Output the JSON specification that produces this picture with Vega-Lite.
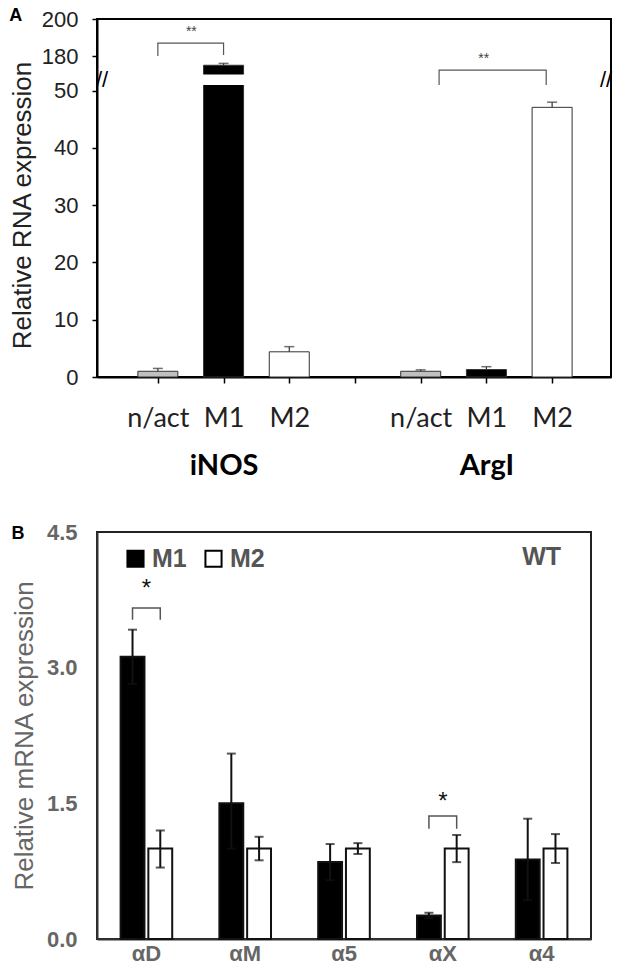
{
  "$schema": "https://vega.github.io/schema/vega-lite/v6.json",
  "background": "white",
  "padding": {"left": 8, "top": 6, "right": 4, "bottom": 0},
  "spacing": 39,
  "resolve": {"scale": {"fill": "independent"}, "legend": {"fill": "independent"}},
  "datasets": {
    "a": [
      {"gene": "iNOS", "cond": "n/act", "slot": 1, "value": 1.0, "hi": 1.5},
      {"gene": "iNOS", "cond": "M1", "slot": 2, "value": 175, "hi": 176},
      {"gene": "iNOS", "cond": "M2", "slot": 3, "value": 4.4, "hi": 5.3},
      {"gene": "ArgI", "cond": "n/act", "slot": 5, "value": 1.0, "hi": 1.25},
      {"gene": "ArgI", "cond": "M1", "slot": 6, "value": 1.3, "hi": 1.8},
      {"gene": "ArgI", "cond": "M2", "slot": 7, "value": 47.1, "hi": 48.0}
    ],
    "aBr": [
      {"id": "iNOS", "o": 1, "x": 1.0, "y": 180},
      {"id": "iNOS", "o": 2, "x": 1.0, "y": 187},
      {"id": "iNOS", "o": 3, "x": 2.0, "y": 187},
      {"id": "iNOS", "o": 4, "x": 2.0, "y": 180.5},
      {"id": "ArgI", "o": 1, "x": 5.28, "y": 51},
      {"id": "ArgI", "o": 2, "x": 5.28, "y": 172.4},
      {"id": "ArgI", "o": 3, "x": 6.91, "y": 172.4},
      {"id": "ArgI", "o": 4, "x": 6.91, "y": 51.2}
    ],
    "aStar": [
      {"x": 1.51, "y": 193, "t": "**"},
      {"x": 5.96, "y": 178.4, "t": "**"}
    ],
    "b": [
      {"gene": "αD", "cond": "M1", "value": 3.12, "lo": 2.82, "hi": 3.42},
      {"gene": "αD", "cond": "M2", "value": 1.0, "lo": 0.79, "hi": 1.2},
      {"gene": "αM", "cond": "M1", "value": 1.5, "lo": 1.0, "hi": 2.05},
      {"gene": "αM", "cond": "M2", "value": 1.0, "lo": 0.87, "hi": 1.13},
      {"gene": "α5", "cond": "M1", "value": 0.85, "lo": 0.65, "hi": 1.05},
      {"gene": "α5", "cond": "M2", "value": 1.0, "lo": 0.94, "hi": 1.06},
      {"gene": "αX", "cond": "M1", "value": 0.26, "lo": 0.23, "hi": 0.29},
      {"gene": "αX", "cond": "M2", "value": 1.0, "lo": 0.85, "hi": 1.15},
      {"gene": "α4", "cond": "M1", "value": 0.88, "lo": 0.43, "hi": 1.33},
      {"gene": "α4", "cond": "M2", "value": 1.0, "lo": 0.84, "hi": 1.16}
    ],
    "bBr": [
      {"id": "D", "o": 1, "gene": "αD", "cond": "M1", "y": 3.53},
      {"id": "D", "o": 2, "gene": "αD", "cond": "M1", "y": 3.66},
      {"id": "D", "o": 3, "gene": "αD", "cond": "M2", "y": 3.66},
      {"id": "D", "o": 4, "gene": "αD", "cond": "M2", "y": 3.53},
      {"id": "X", "o": 1, "gene": "αX", "cond": "M1", "y": 1.22},
      {"id": "X", "o": 2, "gene": "αX", "cond": "M1", "y": 1.36},
      {"id": "X", "o": 3, "gene": "αX", "cond": "M2", "y": 1.36},
      {"id": "X", "o": 4, "gene": "αX", "cond": "M2", "y": 1.22}
    ],
    "bStar": [
      {"gene": "αD", "y": 3.87, "t": "*"},
      {"gene": "αX", "y": 1.52, "t": "*"}
    ]
  },
  "vconcat": [
    {
      "width": 514,
      "height": 358,
      "title": {"text": "A", "anchor": "start", "frame": "bounds", "font": "Liberation Sans", "fontSize": 18, "fontWeight": "bold", "color": "#000", "offset": -17},
      "view": {"stroke": "#000", "strokeWidth": 2},
      "resolve": {"axis": {"x": "independent"}},
      "layer": [
        {
          "data": {"name": "a"},
          "mark": {"type": "bar", "width": 40, "stroke": "#333", "strokeWidth": 1},
          "encoding": {
            "x": {
              "field": "slot", "type": "quantitative",
              "scale": {"domain": [0.15, 7.82], "nice": false, "zero": false},
              "axis": {
                "values": [1, 2, 3, 4, 5, 6, 7],
                "labelExpr": "['', 'n/act', 'M1', 'M2', '', 'n/act', 'M1', 'M2'][datum.value]",
                "labelFont": "Lato", "labelFontSize": 27, "labelColor": "#222",
                "ticks": true, "tickSize": 6, "tickColor": "#000", "tickWidth": 1.5,
                "domainColor": "#000", "domainWidth": 2,
                "labelPadding": 22, "title": null, "labelFlush": false, "labelOverlap": false, "grid": false
              }
            },
            "y": {
              "field": "value", "type": "quantitative",
              "scale": {"domain": [0, 51, 170, 200], "range": [358, 66, 55.5, 0], "nice": false, "zero": false},
              "axis": {
                "title": "Relative RNA expression",
                "values": [0, 10, 20, 30, 40, 50, 180, 200],
                "labelFont": "Liberation Sans", "labelFontSize": 22, "labelColor": "#222",
                "titleFont": "Liberation Sans", "titleFontSize": 26, "titleFontWeight": "normal", "titleColor": "#222",
                "titleY": 186,
                "ticks": true, "tickSize": 5, "tickColor": "#000", "tickWidth": 1.5,
                "domainColor": "#000", "domainWidth": 2,
                "labelPadding": 14, "titlePadding": 6, "labelFlush": false, "labelOverlap": false, "grid": false
              }
            },
            "fill": {
              "field": "cond", "type": "nominal",
              "scale": {"domain": ["n/act", "M1", "M2"], "range": ["#c0c0c0", "#000000", "#ffffff"]},
              "legend": null
            }
          }
        },
        {
          "data": {"name": "a"},
          "transform": [{"filter": "datum.value > 100"}],
          "mark": {"type": "bar", "width": 46, "fill": "white", "stroke": null},
          "encoding": {
            "x": {"field": "slot", "type": "quantitative", "axis": null},
            "y": {"datum": 51, "type": "quantitative"},
            "y2": {"datum": 170}
          }
        },
        {
          "data": {"name": "a"},
          "mark": {"type": "rule", "color": "#333", "strokeWidth": 1.2},
          "encoding": {
            "x": {"field": "slot", "type": "quantitative", "axis": null},
            "y": {"field": "value", "type": "quantitative"},
            "y2": {"field": "hi"}
          }
        },
        {
          "data": {"name": "a"},
          "mark": {"type": "tick", "orient": "horizontal", "size": 10, "thickness": 1.5, "color": "#333"},
          "encoding": {
            "x": {"field": "slot", "type": "quantitative", "axis": null},
            "y": {"field": "hi", "type": "quantitative"}
          }
        },
        {
          "data": {"name": "aBr"},
          "mark": {"type": "line", "color": "#555", "strokeWidth": 1.2},
          "encoding": {
            "x": {"field": "x", "type": "quantitative", "axis": null},
            "y": {"field": "y", "type": "quantitative"},
            "detail": {"field": "id"},
            "order": {"field": "o"}
          }
        },
        {
          "data": {"name": "aStar"},
          "mark": {"type": "text", "font": "Liberation Sans", "fontSize": 14, "color": "#444", "baseline": "middle"},
          "encoding": {
            "x": {
              "field": "x", "type": "quantitative",
              "axis": {
                "orient": "bottom", "values": [2, 6],
                "labelExpr": "datum.value == 2 ? 'iNOS' : 'ArgI'",
                "domain": false, "ticks": false, "tickSize": 0, "grid": false,
                "labelFont": "Lato", "labelFontWeight": "bold", "labelFontSize": 29, "labelColor": "#000",
                "labelPadding": 74, "title": null, "labelFlush": false, "labelOverlap": false
              }
            },
            "y": {"field": "y", "type": "quantitative"},
            "text": {"field": "t"}
          }
        },
        {
          "data": {"values": [{}]},
          "mark": {"type": "text", "text": "//", "font": "Liberation Sans", "fontSize": 22, "color": "#000", "baseline": "middle"},
          "encoding": {
            "x": {"datum": 0.15, "type": "quantitative", "axis": null},
            "y": {"datum": 110, "type": "quantitative"}
          }
        },
        {
          "data": {"values": [{}]},
          "mark": {"type": "text", "text": "//", "font": "Liberation Sans", "fontSize": 22, "color": "#000", "baseline": "middle"},
          "encoding": {
            "x": {"datum": 7.82, "type": "quantitative", "axis": null},
            "y": {"datum": 110, "type": "quantitative"}
          }
        }
      ]
    },
    {
      "width": 494,
      "height": 407,
      "title": {"text": "B", "anchor": "start", "frame": "bounds", "font": "Liberation Sans", "fontSize": 18, "fontWeight": "bold", "color": "#000", "offset": -22},
      "view": {"stroke": "#222", "strokeWidth": 2},
      "layer": [
        {
          "data": {"name": "b"},
          "mark": {"type": "bar", "stroke": "#111", "strokeWidth": 2},
          "encoding": {
            "x": {
              "field": "gene", "type": "nominal",
              "scale": {"domain": ["αD", "αM", "α5", "αX", "α4"], "paddingInner": 0, "paddingOuter": 0},
              "axis": {
                "title": null, "labelAngle": 0, "ticks": false, "tickSize": 0,
                "labelFont": "Liberation Sans", "labelFontSize": 22, "labelFontWeight": "bold", "labelColor": "#666",
                "labelPadding": 4, "domainColor": "#333", "domainWidth": 2, "grid": false
              }
            },
            "xOffset": {
              "field": "cond", "type": "nominal",
              "scale": {"domain": ["M1", "M2"], "paddingInner": 0.14, "paddingOuter": 0.85}
            },
            "y": {
              "field": "value", "type": "quantitative",
              "scale": {"domain": [0, 4.5], "nice": false},
              "axis": {
                "title": "Relative mRNA expression",
                "values": [0, 1.5, 3, 4.5], "format": ".1f",
                "labelFont": "Liberation Sans", "labelFontSize": 22, "labelFontWeight": "bold", "labelColor": "#666",
                "titleFont": "Liberation Sans", "titleFontSize": 26, "titleFontWeight": "normal", "titleColor": "#666",
                "ticks": false, "tickSize": 0, "domainColor": "#333", "domainWidth": 2,
                "labelPadding": 20, "titlePadding": 9, "labelFlush": false, "labelOverlap": false, "grid": false
              }
            },
            "fill": {
              "field": "cond", "type": "nominal",
              "scale": {"domain": ["M1", "M2"], "range": ["#000000", "#ffffff"]},
              "legend": {
                "title": null, "orient": "none", "legendX": 26, "legendY": 14, "direction": "horizontal",
                "symbolType": "square", "symbolSize": 260, "symbolStrokeColor": "#000", "symbolStrokeWidth": 2,
                "labelFont": "Liberation Sans", "labelFontSize": 25, "labelFontWeight": "bold", "labelColor": "#555",
                "columnPadding": 14, "labelOffset": 4
              }
            }
          }
        },
        {
          "data": {"name": "b"},
          "mark": {"type": "rule", "color": "#111", "strokeWidth": 2},
          "encoding": {
            "x": {"field": "gene", "type": "nominal"},
            "xOffset": {"field": "cond", "type": "nominal"},
            "y": {"field": "lo", "type": "quantitative"},
            "y2": {"field": "hi"}
          }
        },
        {
          "data": {"name": "b"},
          "mark": {"type": "tick", "size": 9, "thickness": 2, "color": "#111"},
          "encoding": {
            "x": {"field": "gene", "type": "nominal"},
            "xOffset": {"field": "cond", "type": "nominal"},
            "y": {"field": "lo", "type": "quantitative"}
          }
        },
        {
          "data": {"name": "b"},
          "mark": {"type": "tick", "size": 9, "thickness": 2, "color": "#111"},
          "encoding": {
            "x": {"field": "gene", "type": "nominal"},
            "xOffset": {"field": "cond", "type": "nominal"},
            "y": {"field": "hi", "type": "quantitative"}
          }
        },
        {
          "data": {"name": "bBr"},
          "mark": {"type": "line", "color": "#555", "strokeWidth": 1.5},
          "encoding": {
            "x": {"field": "gene", "type": "nominal"},
            "xOffset": {"field": "cond", "type": "nominal"},
            "y": {"field": "y", "type": "quantitative"},
            "detail": {"field": "id"},
            "order": {"field": "o"}
          }
        },
        {
          "data": {"name": "bStar"},
          "mark": {"type": "text", "font": "Liberation Sans", "fontSize": 24, "color": "#111", "baseline": "middle"},
          "encoding": {
            "x": {"field": "gene", "type": "nominal"},
            "y": {"field": "y", "type": "quantitative"},
            "text": {"field": "t"}
          }
        },
        {
          "data": {"values": [{}]},
          "mark": {"type": "text", "text": "WT", "font": "Liberation Sans", "fontSize": 25, "fontWeight": "bold", "color": "#555", "baseline": "middle"},
          "encoding": {
            "x": {"datum": "α4", "type": "nominal"},
            "y": {"datum": 4.22, "type": "quantitative"}
          }
        }
      ]
    }
  ],
  "config": {
    "font": "Liberation Sans",
    "axis": {"grid": false}
  }
}
